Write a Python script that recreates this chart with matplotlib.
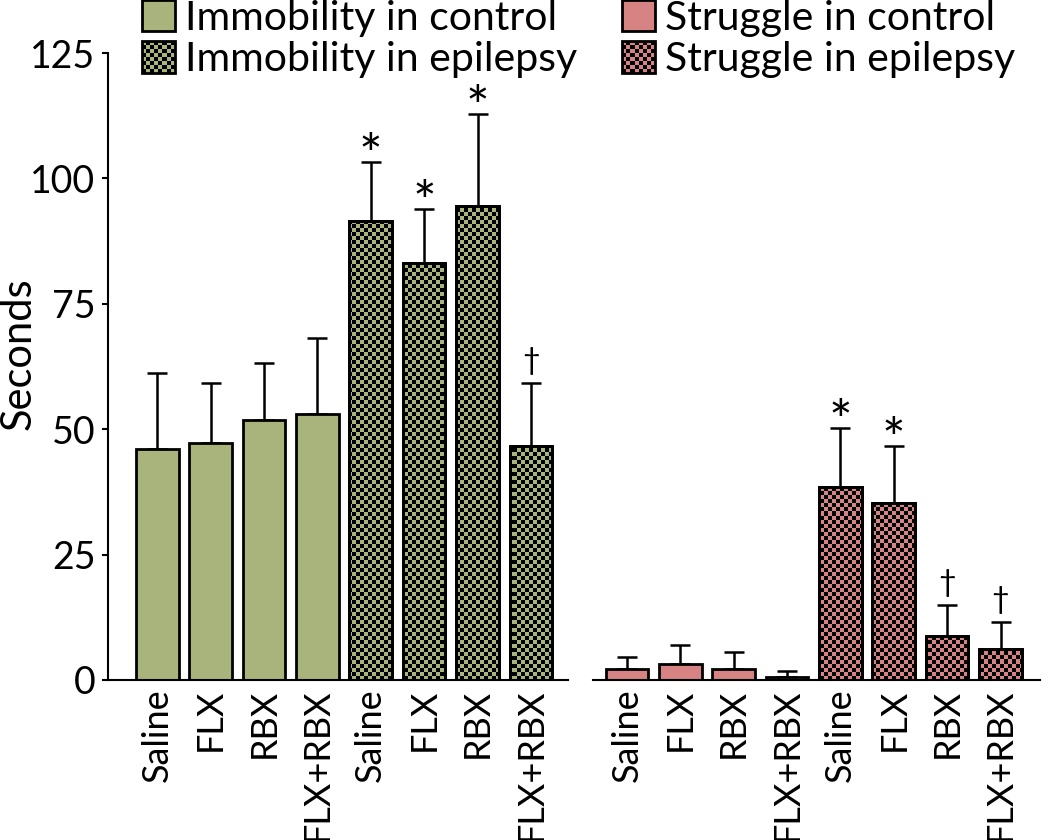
import numpy as np
import matplotlib
matplotlib.use('Agg')
import matplotlib.pyplot as plt
from matplotlib.patches import Rectangle
from matplotlib.legend_handler import HandlerBase

plt.rcParams['font.family'] = ['Lato', 'DejaVu Sans']

treatments = ['Saline', 'FLX', 'RBX', 'FLX+RBX']

immobility_control = [46.0, 47.3, 51.8, 53.1]
immobility_control_err = [15.2, 12.0, 11.3, 15.1]
immobility_epilepsy = [91.6, 83.2, 94.4, 46.7]
immobility_epilepsy_err = [11.6, 10.6, 18.4, 12.6]

struggle_control = [2.2, 3.1, 2.2, 0.6]
struggle_control_err = [2.3, 3.9, 3.3, 1.1]
struggle_epilepsy = [38.5, 35.3, 8.7, 6.2]
struggle_epilepsy_err = [11.7, 11.3, 6.3, 5.4]

immobility_marks = ['', '', '', '', '*', '*', '*', '†']
struggle_marks = ['', '', '', '', '*', '*', '†', '†']

green = '#a9b47c'
pink = '#d88383'
fs = 27

fig = plt.figure(figsize=(10.5, 8.4), dpi=100)
ax = fig.add_axes([108 / 1050, 160 / 840, 932 / 1050, 627 / 840])

# checkerboard overlay, roughly 4 px cells
ny, nx = 157, 233
ii, jj = np.indices((ny, nx))
checker = np.zeros((ny, nx, 4))
checker[..., 3] = ((ii + jj) % 2 == 0)


def draw_group(x, ctrl, ctrl_err, epi, epi_err, color, marks):
    vals = np.array(ctrl + epi)
    errs = np.array(ctrl_err + epi_err)
    bars = ax.bar(x, vals, width=0.8, color=color, edgecolor='black', linewidth=2, zorder=2)
    ax.errorbar(x, vals, yerr=[np.zeros(len(vals)), errs], fmt='none', ecolor='black',
                elinewidth=1.8, capsize=7.5, capthick=1.8, zorder=1)
    for b in bars[4:]:
        im = ax.imshow(checker, extent=(0, 1, 0, 1), transform=ax.transAxes, aspect='auto',
                       interpolation='nearest', zorder=2.5)
        im.set_clip_path(b)
    ax.bar(x[4:], vals[4:], width=0.8, fill=False, edgecolor='black', linewidth=2, zorder=3)
    for xi, v, e, m in zip(x, vals, errs, marks):
        if m == '*':
            ax.annotate(m, xy=(xi, v + e), xytext=(0, -8.5), textcoords='offset points',
                        ha='center', va='baseline', fontsize=40)
        elif m == '†':
            ax.text(xi, v + e + 1.5, m, ha='center', va='bottom', fontsize=22)


x_imm = np.arange(8)
x_str = np.arange(8) + 8.8

draw_group(x_imm, immobility_control, immobility_control_err, immobility_epilepsy,
           immobility_epilepsy_err, green, immobility_marks)
draw_group(x_str, struggle_control, struggle_control_err, struggle_epilepsy,
           struggle_epilepsy_err, pink, struggle_marks)

ax.set_xlim(-0.924, 16.54)
ax.set_ylim(0, 125)

# broken x axis
ax.plot([-0.924, 7.70], [0, 0], color='black', lw=1.5, clip_on=False, zorder=4)
ax.plot([8.16, 16.54], [0, 0], color='black', lw=1.5, clip_on=False, zorder=4)

for s in ['top', 'right', 'bottom']:
    ax.spines[s].set_visible(False)
ax.spines['left'].set_linewidth(1.5)

ax.set_yticks([0, 25, 50, 75, 100, 125])
ax.tick_params(axis='y', length=4, width=1.5, direction='out', labelsize=fs, pad=5)
ax.set_xticks(np.concatenate([x_imm, x_str]))
ax.set_xticklabels(treatments * 4, rotation=90)
ax.tick_params(axis='x', length=0, labelsize=26, pad=6)

ax.set_ylabel('Seconds', fontsize=30)
ax.yaxis.set_label_coords(-0.075, 0.52)


class CheckerHandler(HandlerBase):
    def __init__(self, checked):
        super().__init__()
        self.checked = checked

    def create_artists(self, legend, orig_handle, xdescent, ydescent, width, height, fontsize, trans):
        x0, y0 = -xdescent, -ydescent
        arts = [Rectangle((x0, y0), width, height, facecolor=orig_handle.get_facecolor(),
                          edgecolor='none', transform=trans)]
        if self.checked:
            n = 8
            cw, ch = width / n, height / n
            for i in range(n):
                for j in range(n):
                    if (i + j) % 2 == 0:
                        arts.append(Rectangle((x0 + i * cw, y0 + j * ch), cw, ch, facecolor='black',
                                              edgecolor='none', transform=trans))
        arts.append(Rectangle((x0, y0), width, height, fill=False, edgecolor='black', lw=2,
                              transform=trans))
        return arts


h1 = Rectangle((0, 0), 1, 1, facecolor=green, label='Immobility in control')
h2 = Rectangle((0, 0), 1, 1, facecolor=green, label='Immobility in epilepsy')
h3 = Rectangle((0, 0), 1, 1, facecolor=pink, label='Struggle in control')
h4 = Rectangle((0, 0), 1, 1, facecolor=pink, label='Struggle in epilepsy')

fig.legend(handles=[h1, h2, h3, h4], ncol=2, loc='upper left',
           bbox_to_anchor=(142 / 1050, 1.0), bbox_transform=fig.transFigure,
           frameon=False, fontsize=29.5, borderpad=0, borderaxespad=0,
           handlelength=0.8, handleheight=0.8, handletextpad=0.25,
           columnspacing=1.1, labelspacing=0.1,
           handler_map={h1: CheckerHandler(False), h2: CheckerHandler(True),
                        h3: CheckerHandler(False), h4: CheckerHandler(True)})

fig.savefig('out.png', dpi=100)
